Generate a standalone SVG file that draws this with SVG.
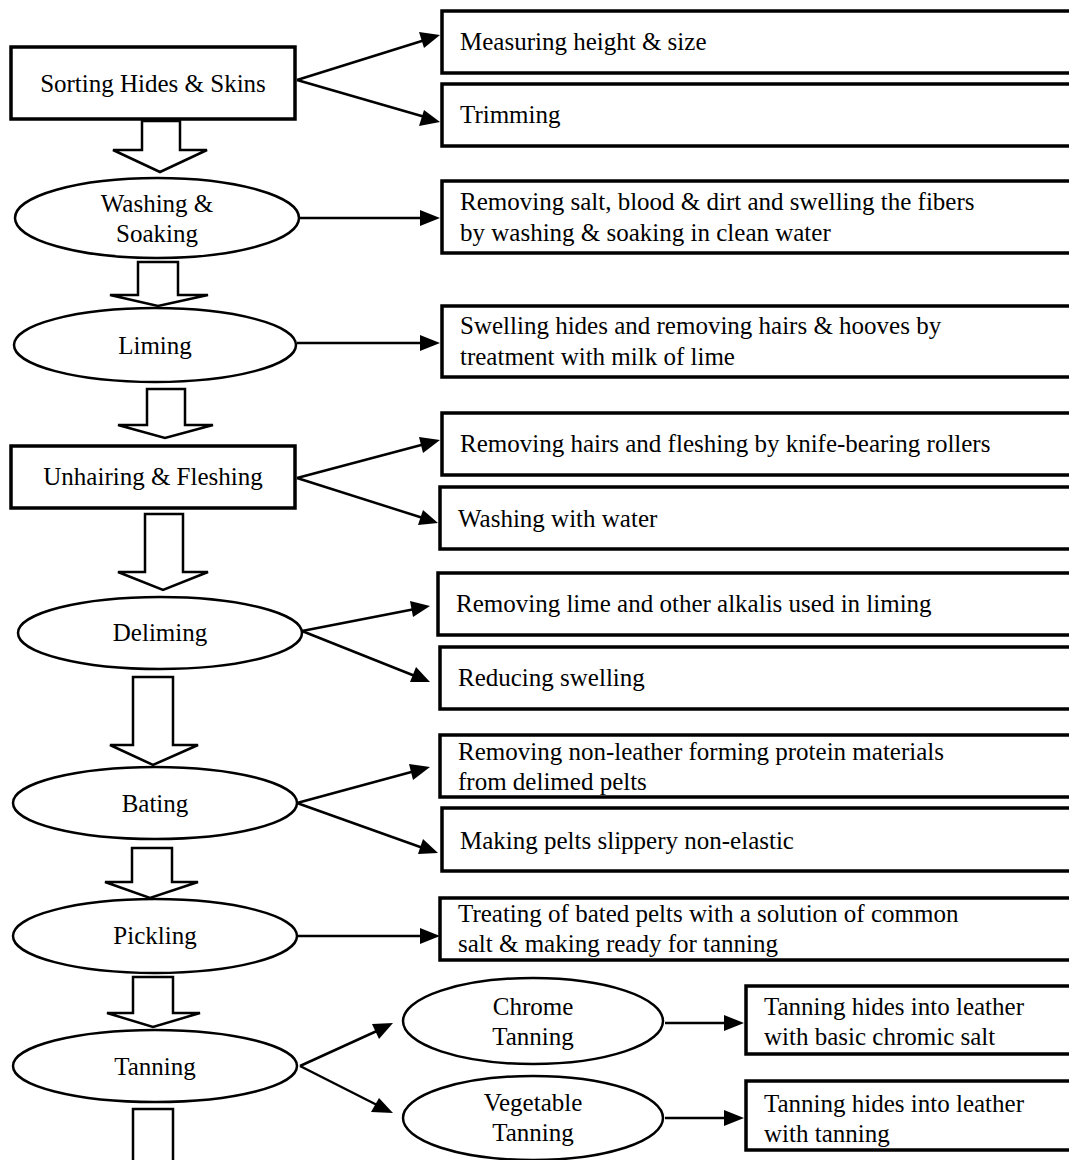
<svg xmlns="http://www.w3.org/2000/svg" width="1069" height="1160" viewBox="0 0 1069 1160">
<rect width="1069" height="1160" fill="#fff"/>
<g id="connectors" stroke="#000" stroke-width="2.5">
<line x1="297" y1="80" x2="425" y2="40"/><polygon points="440,35 419,32 424,48" fill="#000" stroke="none"/>
<line x1="297" y1="80" x2="425" y2="117"/><polygon points="440,122 424,110 419,126" fill="#000" stroke="none"/>
<line x1="299" y1="218" x2="424" y2="218"/><polygon points="440,218 420,210 420,226" fill="#000" stroke="none"/>
<line x1="297" y1="343" x2="424" y2="343"/><polygon points="440,343 420,335 420,351" fill="#000" stroke="none"/>
<line x1="297" y1="478" x2="425" y2="444"/><polygon points="440,440 419,437 423,453" fill="#000" stroke="none"/>
<line x1="297" y1="478" x2="423" y2="518"/><polygon points="438,523 423,510 418,525" fill="#000" stroke="none"/>
<line x1="302" y1="631" x2="415" y2="609"/><polygon points="430,606 410,601 413,617" fill="#000" stroke="none"/>
<line x1="302" y1="631" x2="415" y2="676"/><polygon points="430,682 416,667 410,682" fill="#000" stroke="none"/>
<line x1="297" y1="803" x2="415" y2="771"/><polygon points="430,767 409,764 413,780" fill="#000" stroke="none"/>
<line x1="297" y1="803" x2="423" y2="848"/><polygon points="438,853 423,839 418,854" fill="#000" stroke="none"/>
<line x1="297" y1="936" x2="424" y2="936"/><polygon points="440,936 420,928 420,944" fill="#000" stroke="none"/>
<line x1="300" y1="1066" x2="379" y2="1030"/><polygon points="393,1023 372,1024 379,1039" fill="#000" stroke="none"/>
<line x1="300" y1="1066" x2="379" y2="1106"/><polygon points="393,1113 379,1098 371,1112" fill="#000" stroke="none"/>
<line x1="665" y1="1023" x2="728" y2="1023"/><polygon points="744,1023 724,1015 724,1031" fill="#000" stroke="none"/>
<line x1="665" y1="1118" x2="728" y2="1118"/><polygon points="744,1118 724,1110 724,1126" fill="#000" stroke="none"/>
<g fill="#fff">
<path d="M142,121 H180 V150 H207 L160,172 L113,150 H142 Z"/>
<path d="M138,262 H178 V295 H208 L158,306 L110,295 H138 Z"/>
<path d="M147,389 H185 V425 H213 L165,438 L118,425 H147 Z"/>
<path d="M145,514 H183 V572 H208 L163,590 L118,572 H145 Z"/>
<path d="M133,677 H173 V745 H198 L153,765 L110,745 H133 Z"/>
<path d="M132,848 H172 V882 H198 L150,898 L105,882 H132 Z"/>
<path d="M133,977 H173 V1013 H200 L153,1027 L107,1013 H133 Z"/>
<path d="M133,1165 V1109 H173 V1165"/>
</g>
</g>

<g id="sorting"><rect fill="#fff" stroke="#000" stroke-width="3.5" x="11" y="47" width="284" height="72"/><text font-family="Liberation Serif" font-size="25" text-anchor="middle" x="153" y="92">Sorting Hides &amp; Skins</text></g>
<g id="measuring"><rect fill="#fff" stroke="#000" stroke-width="3.5" x="442" y="11" width="640" height="62"/><text font-family="Liberation Serif" font-size="25" x="460" y="50">Measuring height &amp; size</text></g>
<g id="trimming"><rect fill="#fff" stroke="#000" stroke-width="3.5" x="442" y="84" width="640" height="62"/><text font-family="Liberation Serif" font-size="25" x="460" y="123">Trimming</text></g>

<g id="washing"><ellipse fill="#fff" stroke="#000" stroke-width="2.5" cx="157" cy="218" rx="142" ry="40"/><text font-family="Liberation Serif" font-size="25" text-anchor="middle" x="157" y="212">Washing &amp;</text><text font-family="Liberation Serif" font-size="25" text-anchor="middle" x="157" y="242">Soaking</text></g>
<g id="removing-salt"><rect fill="#fff" stroke="#000" stroke-width="3.5" x="442" y="181" width="640" height="72"/><text font-family="Liberation Serif" font-size="25" x="460" y="210">Removing salt, blood &amp; dirt and swelling the fibers</text><text font-family="Liberation Serif" font-size="25" x="460" y="241">by washing &amp; soaking in clean water</text></g>

<g id="liming"><ellipse fill="#fff" stroke="#000" stroke-width="2.5" cx="155" cy="345" rx="141" ry="37"/><text font-family="Liberation Serif" font-size="25" text-anchor="middle" x="155" y="354">Liming</text></g>
<g id="swelling"><rect fill="#fff" stroke="#000" stroke-width="3.5" x="442" y="306" width="640" height="71"/><text font-family="Liberation Serif" font-size="25" x="460" y="334">Swelling hides and removing hairs &amp; hooves by</text><text font-family="Liberation Serif" font-size="25" x="460" y="365">treatment with milk of lime</text></g>

<g id="unhairing"><rect fill="#fff" stroke="#000" stroke-width="3.5" x="11" y="446" width="284" height="62"/><text font-family="Liberation Serif" font-size="25" text-anchor="middle" x="153" y="485">Unhairing &amp; Fleshing</text></g>
<g id="removing-hairs"><rect fill="#fff" stroke="#000" stroke-width="3.5" x="442" y="413" width="640" height="62"/><text font-family="Liberation Serif" font-size="25" x="460" y="452">Removing hairs and fleshing by knife-bearing rollers</text></g>
<g id="washing-water"><rect fill="#fff" stroke="#000" stroke-width="3.5" x="440" y="487" width="640" height="62"/><text font-family="Liberation Serif" font-size="25" x="458" y="527">Washing with water</text></g>

<g id="deliming"><ellipse fill="#fff" stroke="#000" stroke-width="2.5" cx="160" cy="633" rx="142" ry="36"/><text font-family="Liberation Serif" font-size="25" text-anchor="middle" x="160" y="641">Deliming</text></g>
<g id="removing-lime"><rect fill="#fff" stroke="#000" stroke-width="3.5" x="438" y="573" width="640" height="62"/><text font-family="Liberation Serif" font-size="25" x="456" y="612">Removing lime and other alkalis used in liming</text></g>
<g id="reducing"><rect fill="#fff" stroke="#000" stroke-width="3.5" x="440" y="647" width="640" height="62"/><text font-family="Liberation Serif" font-size="25" x="458" y="686">Reducing swelling</text></g>

<g id="bating"><ellipse fill="#fff" stroke="#000" stroke-width="2.5" cx="155" cy="803" rx="142" ry="36"/><text font-family="Liberation Serif" font-size="25" text-anchor="middle" x="155" y="812">Bating</text></g>
<g id="removing-protein"><rect fill="#fff" stroke="#000" stroke-width="3.5" x="440" y="735" width="640" height="62"/><text font-family="Liberation Serif" font-size="25" x="458" y="760">Removing non-leather forming protein materials</text><text font-family="Liberation Serif" font-size="25" x="458" y="790">from delimed pelts</text></g>
<g id="making-pelts"><rect fill="#fff" stroke="#000" stroke-width="3.5" x="442" y="808" width="640" height="63"/><text font-family="Liberation Serif" font-size="25" x="460" y="849">Making pelts slippery non-elastic</text></g>

<g id="pickling"><ellipse fill="#fff" stroke="#000" stroke-width="2.5" cx="155" cy="936" rx="142" ry="37"/><text font-family="Liberation Serif" font-size="25" text-anchor="middle" x="155" y="944">Pickling</text></g>
<g id="treating"><rect fill="#fff" stroke="#000" stroke-width="3.5" x="440" y="898" width="640" height="62"/><text font-family="Liberation Serif" font-size="25" x="458" y="922">Treating of bated pelts with a solution of common</text><text font-family="Liberation Serif" font-size="25" x="458" y="952">salt &amp; making ready for tanning</text></g>

<g id="tanning"><ellipse fill="#fff" stroke="#000" stroke-width="2.5" cx="155" cy="1066" rx="142" ry="36"/><text font-family="Liberation Serif" font-size="25" text-anchor="middle" x="155" y="1075">Tanning</text></g>
<g id="chrome"><ellipse fill="#fff" stroke="#000" stroke-width="2.5" cx="533" cy="1021" rx="130" ry="43"/><text font-family="Liberation Serif" font-size="25" text-anchor="middle" x="533" y="1015">Chrome</text><text font-family="Liberation Serif" font-size="25" text-anchor="middle" x="533" y="1045">Tanning</text></g>
<g id="chrome-desc"><rect fill="#fff" stroke="#000" stroke-width="3.5" x="746" y="986" width="340" height="68"/><text font-family="Liberation Serif" font-size="25" x="764" y="1015">Tanning hides into leather</text><text font-family="Liberation Serif" font-size="25" x="764" y="1045">with basic chromic salt</text></g>
<g id="vegetable"><ellipse fill="#fff" stroke="#000" stroke-width="2.5" cx="533" cy="1118" rx="130" ry="42"/><text font-family="Liberation Serif" font-size="25" text-anchor="middle" x="533" y="1111">Vegetable</text><text font-family="Liberation Serif" font-size="25" text-anchor="middle" x="533" y="1141">Tanning</text></g>
<g id="vegetable-desc"><rect fill="#fff" stroke="#000" stroke-width="3.5" x="746" y="1081" width="340" height="69"/><text font-family="Liberation Serif" font-size="25" x="764" y="1112">Tanning hides into leather</text><text font-family="Liberation Serif" font-size="25" x="764" y="1142">with tanning</text></g>
</svg>
